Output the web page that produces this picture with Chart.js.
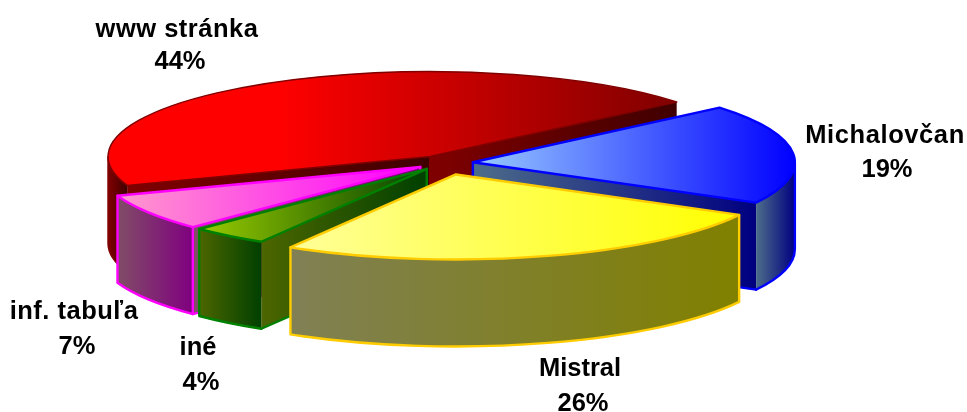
<!DOCTYPE html>
<html><head><meta charset="utf-8">
<style>html,body{margin:0;padding:0;background:#fff}canvas{display:block}</style>
<script src="https://cdn.jsdelivr.net/npm/chart.js@4/dist/chart.umd.min.js"></script>
</head><body><canvas id="c" width="967" height="412"></canvas>
<script>
const categories = ['Michalovčan', 'Mistral', 'iné', 'inf. tabuľa', 'www stránka'];
const shares = [19, 25.7, 3.9, 7, 44.4];
const shareLabels = ['19%', '26%', '4%', '7%', '44%'];

// style tables (one entry per slice, same order as categories)
const baseColors = ['#0000ff', '#ffff00', '#008000', '#ff00ff', '#ff0000'];
const outline = ['#0000ff', '#ffcc00', '#008000', '#ff00ff', '#800000'];
const outlineWidth = [2.4, 2.4, 2.4, 2.4, 1.5];
const topStops = [
  [[0, '#99ccff'], [1, '#0000ff']],
  [[0, '#ffff99'], [1, '#ffff00']],
  [[0, '#99cc00'], [1, '#004000']],
  [[0, '#ff99cc'], [1, '#ff00ff']],
  [[0, '#ff0000'], [0.3, '#ff0000'], [1, '#800000']]
];
const sideStops = [
  [[0, '#4d6d8a'], [1, '#000080']],
  [[0, '#808055'], [1, '#808000']],
  [[0, '#4d6600'], [1, '#004000']],
  [[0, '#804d66'], [1, '#800080']],
  [[0, '#800000'], [1, '#400000']]
];
const explode = [29, 45, 28, 28, 28];
const cornerLine = [false, false, false, true, false];
const paintOrder = [4, 0, 3, 2, 1];
const view = { cx: 444, cy: 163, rx: 322, ry: 85, depth: 87 };
const labelSpots = [[885, 136, 887, 170], [580, 369, 583, 404], [198, 348, 201, 383], [74, 312, 77, 347], [177, 30, 180, 62]];
const labelSpacing = ['0.6px', '0px', '0px', '0.5px', '0.5px'];
const labelFont = 'bold 25.5px "Liberation Sans", Arial, sans-serif';

function gradient(ctx, x0, x1, stops) {
  const g = ctx.createLinearGradient(x0, 0, x1, 0);
  stops.forEach(s => g.addColorStop(s[0], s[1]));
  return g;
}

const pie3d = {
  id: 'pie3d',
  beforeDatasetsDraw(chart) {
    const ctx = chart.ctx;
    const arcs = chart.getDatasetMeta(0).data;
    const { cx, cy, rx, ry, depth } = view;
    paintOrder.forEach(i => {
      const el = arcs[i];
      const a0 = el.startAngle, a1 = el.endAngle, mid = (a0 + a1) / 2;
      const ox = cx + explode[i] * Math.cos(mid);
      const oy = cy + explode[i] * Math.sin(mid) * ry / rx;
      const px = a => ox + rx * Math.cos(a);
      const py = a => oy + ry * Math.sin(a);
      ctx.save();
      ctx.lineJoin = 'round';
      ctx.lineCap = 'round';
      ctx.strokeStyle = outline[i];
      ctx.lineWidth = outlineWidth[i];

      const startVisible = Math.cos(a0) < 0;
      const endVisible = Math.cos(a1) > 0;
      const face = a => {
        ctx.beginPath();
        ctx.moveTo(ox, oy);
        ctx.lineTo(px(a), py(a));
        ctx.lineTo(px(a), py(a) + depth);
        ctx.lineTo(ox, oy + depth);
        ctx.closePath();
        ctx.fillStyle = gradient(ctx, Math.min(ox, px(a)), Math.max(ox, px(a)), sideStops[i]);
        ctx.fill();
        ctx.beginPath();
        ctx.moveTo(px(a), py(a) + depth);
        ctx.lineTo(ox, oy + depth);
        ctx.lineTo(ox, oy);
        ctx.stroke();
      };
      if (startVisible) face(a0);
      if (endVisible) face(a1);

      // outer rim wall
      const lo = Math.max(a0, 0), hi = Math.min(a1, Math.PI);
      if (hi > lo) {
        ctx.beginPath();
        ctx.ellipse(ox, oy, rx, ry, 0, lo, hi);
        ctx.ellipse(ox, oy + depth, rx, ry, 0, hi, lo, true);
        ctx.closePath();
        const xs = [px(lo), px(hi)];
        ctx.fillStyle = gradient(ctx, Math.min(...xs), Math.max(...xs), sideStops[i]);
        ctx.fill();
        ctx.beginPath();
        if (lo === 0 || !startVisible || cornerLine[i]) { ctx.moveTo(px(lo), py(lo)); ctx.lineTo(px(lo), py(lo) + depth); }
        else ctx.moveTo(px(lo), py(lo) + depth);
        ctx.ellipse(ox, oy + depth, rx, ry, 0, lo, hi);
        if (hi === Math.PI || !endVisible) ctx.lineTo(px(hi), py(hi));
        ctx.stroke();
      }

      // top face: drawn by the library's arc element, squashed into the tilted plane
      const samples = [ox, px(a0), px(a1)];
      for (let k = -1; k <= 3; k++) {
        const q = k * Math.PI;
        if (q > a0 && q < a1) samples.push(px(q));
      }
      const left = Math.min(...samples), right = Math.max(...samples);
      const kx = rx / el.outerRadius, ky = ry / el.outerRadius;
      const tx = ox - el.x * kx, ty = oy - el.y * ky;
      const toLocal = x => (x - tx) / kx;
      el.options = Object.assign({}, el.options, {
        backgroundColor: gradient(ctx, toLocal(left), toLocal(right), topStops[i]),
        borderWidth: 0
      });
      ctx.save();
      ctx.setTransform(kx, 0, 0, ky, tx, ty);
      el.draw(ctx);
      ctx.restore();

      ctx.beginPath();
      ctx.moveTo(ox, oy);
      ctx.ellipse(ox, oy, rx, ry, 0, a0, a1);
      ctx.closePath();
      ctx.stroke();
      ctx.restore();
    });
    return false;
  },
  afterDraw(chart) {
    const ctx = chart.ctx;
    ctx.save();
    ctx.font = labelFont;
    ctx.fillStyle = '#000';
    ctx.textAlign = 'center';
    ctx.textBaseline = 'middle';
    categories.forEach((name, i) => {
      const s = labelSpots[i];
      ctx.letterSpacing = labelSpacing[i];
      ctx.fillText(name, s[0], s[1]);
      ctx.letterSpacing = '0px';
      ctx.fillText(shareLabels[i], s[2], s[3]);
    });
    ctx.restore();
  }
};

new Chart(document.getElementById('c'), {
  type: 'pie',
  data: { labels: categories, datasets: [{ data: shares, backgroundColor: baseColors, borderWidth: 0 }] },
  options: {
    responsive: false,
    animation: false,
    rotation: 50,
    layout: { padding: 0 },
    plugins: { legend: { display: false }, tooltip: { enabled: false } }
  },
  plugins: [pie3d]
});
</script></body></html>
